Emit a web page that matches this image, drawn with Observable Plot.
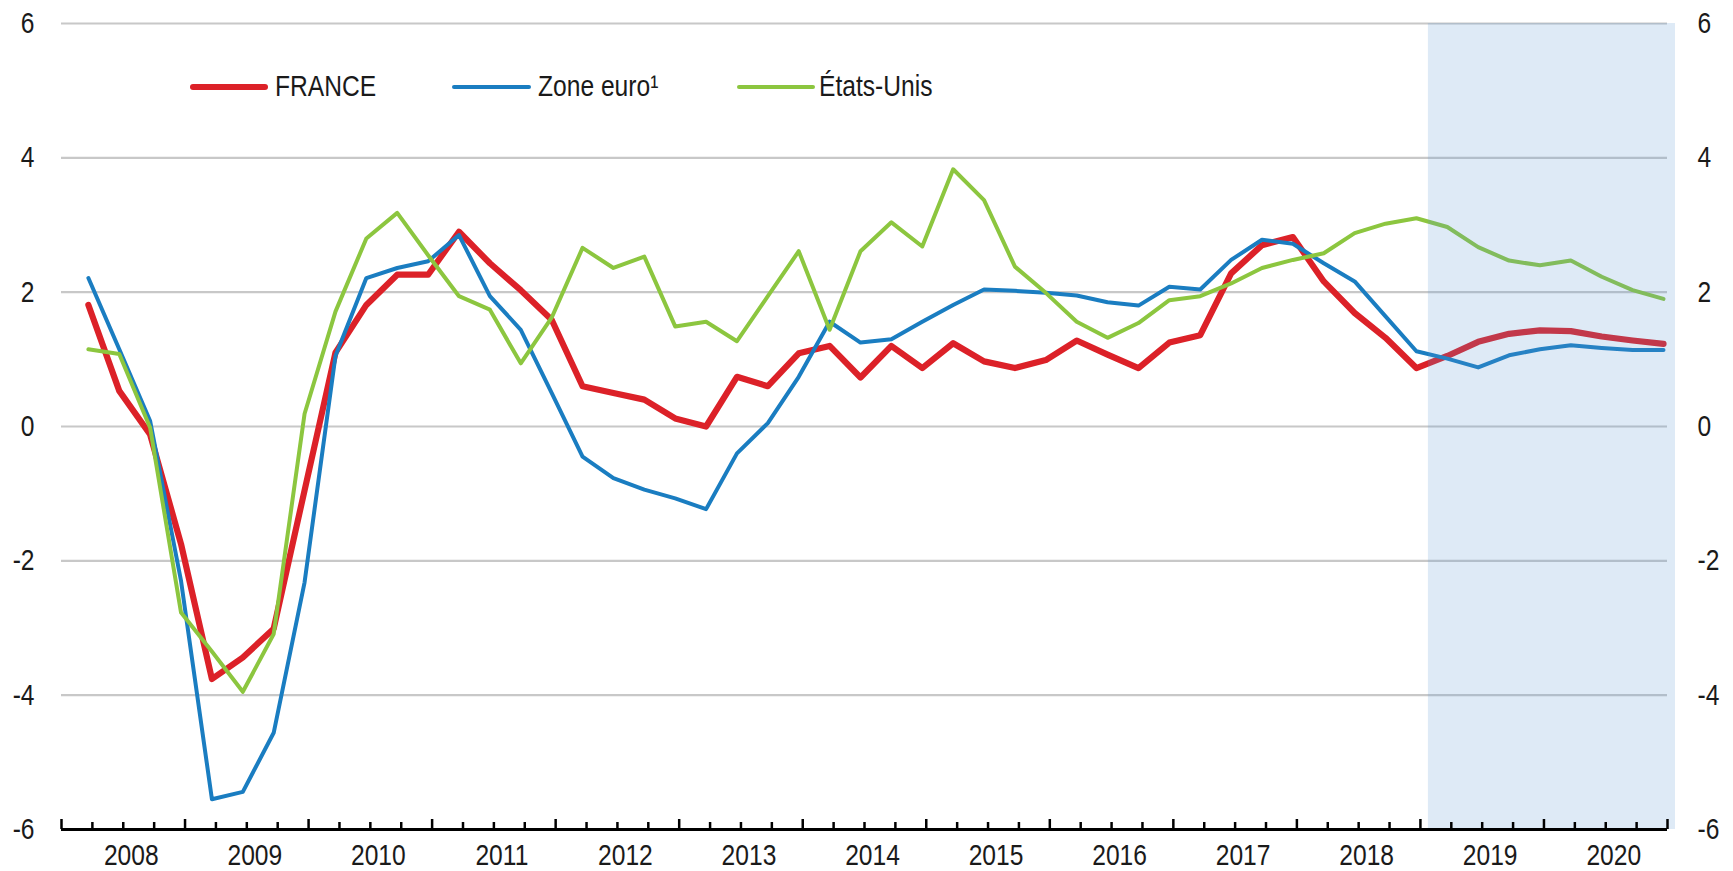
<!DOCTYPE html>
<html><head><meta charset="utf-8">
<script src="https://cdn.jsdelivr.net/npm/d3@7"></script>
<script src="https://cdn.jsdelivr.net/npm/@observablehq/plot@0.6"></script>
<style>
html,body{margin:0;padding:0;background:#fff;}
#wrap{position:relative;width:1733px;height:871px;overflow:hidden;}
#wrap svg{display:block;}
.leg{position:absolute;font-size:30px;line-height:30px;color:#1a1a1a;white-space:nowrap;transform:scaleX(0.82);transform-origin:0 0;}
.sw{position:absolute;border-radius:4px;}
</style></head><body><div id="wrap"></div>
<script>
const FONT = "'Liberation Sans Narrow','Arial Narrow','Liberation Sans',Arial,sans-serif";
const NARROW = 0.82; // horizontal condensing to mimic a narrow face

// Categories: quarterly, 2008 T1 .. 2020 T4
const years = [2008,2009,2010,2011,2012,2013,2014,2015,2016,2017,2018,2019,2020];
const quarters = [1,2,3,4];

// Series values (y/y % change)
const france = [1.81,0.53,-0.12,-1.75, -3.76,-3.44,-3.01,-0.95, 1.10,1.81,2.26,2.26,
  2.90,2.43,2.03,1.59, 0.60,0.50,0.40,0.12, 0.00,0.74,0.60,1.09,
  1.20,0.73,1.20,0.87, 1.24,0.97,0.87,0.99, 1.28,1.07,0.87,1.25,
  1.36,2.28,2.70,2.82, 2.16,1.69,1.32,0.87, 1.05,1.26,1.38,1.43,
  1.42,1.34,1.28,1.23];
const zoneEuro = [2.21,1.15,0.08,-2.30, -5.55,-5.44,-4.56,-2.32, 1.05,2.21,2.36,2.46,
  2.85,1.94,1.44,0.50, -0.45,-0.77,-0.94,-1.07, -1.23,-0.40,0.05,0.74,
  1.56,1.25,1.30,1.56, 1.81,2.04,2.02,1.99, 1.95,1.85,1.80,2.08,
  2.04,2.48,2.78,2.72, 2.43,2.16,1.64,1.12, 1.01,0.88,1.06,1.15,
  1.21,1.17,1.14,1.14];
const etatsUnis = [1.15,1.08,-0.02,-2.77, -3.35,-3.95,-3.09,0.19, 1.71,2.80,3.18,2.55,
  1.94,1.74,0.94,1.62, 2.66,2.36,2.53,1.49, 1.56,1.27,1.94,2.61,
  1.44,2.61,3.04,2.68, 3.83,3.37,2.38,1.99, 1.56,1.32,1.54,1.88,
  1.94,2.13,2.36,2.48, 2.58,2.88,3.02,3.10, 2.97,2.67,2.47,2.40,
  2.47,2.23,2.03,1.90];

const seriesNames = ["FRANCE", "Zone euro\u00b9", "\u00c9tats-Unis"];
const seriesValues = [france, zoneEuro, etatsUnis];
const seriesColors = ["#dc2128", "#1a7dc1", "#8cc63f"];
const seriesWidths = [6.2, 4, 4];

const yTicks = [-6,-4,-2,0,2,4,6];
const projection = [{start: 2019, end: 2021}];

// quarter-end positions on a continuous year axis
const periods = years.flatMap(y => quarters.map(q => ({year: y, q, t: y + q / 4})));
const tables = seriesValues.map((vals, s) =>
  periods.map((p, i) => ({series: seriesNames[s], t: p.t, value: vals[i]})));

const majorTicks = [...years, years[years.length - 1] + 1];
const minorTicks = years.flatMap(y => [1,2,3].map(q => y + q / 4));
const labelTicks = years.map(y => y + 0.5);

const chart = Plot.plot({
  width: 1733, height: 871,
  marginLeft: 61, marginRight: 66, marginTop: 23, marginBottom: 42,
  style: {fontFamily: FONT, fontSize: "30px", color: "#1a1a1a", background: "#fff", overflow: "visible"},
  x: {domain: [years[0], years[years.length - 1] + 1], label: null},
  y: {domain: [-6, 6], label: null},
  marks: [
    Plot.ruleY(yTicks.filter(v => v !== -6), {stroke: "#c8c8c8", strokeWidth: 2.2}),
    ...tables.map((tb, s) => Plot.line(tb, {
      x: "t", y: "value", stroke: seriesColors[s], strokeWidth: seriesWidths[s],
      strokeLinejoin: "round", strokeLinecap: "round", dx: -4
    })),
    Plot.rect(projection, {x1: "start", x2: "end", fill: "rgb(90,150,210)", fillOpacity: 0.2, dx: 8}),
    Plot.ruleY([-6], {stroke: "#000", strokeWidth: 3}),
    Plot.axisX({ticks: majorTicks, tickSize: -10, tickFormat: () => "", stroke: "#000", strokeWidth: 2.5, label: null}),
    Plot.axisX({ticks: minorTicks, tickSize: -7, tickFormat: () => "", stroke: "#000", strokeWidth: 2.5, label: null}),
    Plot.axisX({ticks: labelTicks, tickSize: 0, tickPadding: 14, dx: 8, fontSize: 30,
      tickFormat: d => String(Math.floor(d)), label: null}),
    Plot.axisY({anchor: "left", ticks: yTicks, tickSize: 0, tickPadding: 27, fontSize: 30,
      tickFormat: d => String(d), label: null}),
    Plot.axisY({anchor: "right", ticks: yTicks, tickSize: 0, tickPadding: 30, fontSize: 30,
      tickFormat: d => String(d), label: null})
  ]
});

// condense SVG text horizontally about its anchor point
chart.querySelectorAll("text").forEach(el => {
  const x = +(el.getAttribute("x") || 0);
  const tr = el.getAttribute("transform") || "";
  el.setAttribute("transform", `${tr} translate(${x},0) scale(${NARROW},1) translate(${-x},0)`);
});

const wrap = document.getElementById("wrap");
wrap.appendChild(chart);

// Legend (overlaid at the top of the plot area)
const legendItems = [
  {sw: [190, 78, 6.5], txt: 275},
  {sw: [452, 79, 4.5], txt: 538},
  {sw: [737, 78, 4.5], txt: 819}
];
legendItems.forEach((it, s) => {
  const sw = document.createElement("div");
  sw.className = "sw";
  sw.style.left = it.sw[0] + "px";
  sw.style.width = it.sw[1] + "px";
  sw.style.height = it.sw[2] + "px";
  sw.style.top = (87 - it.sw[2] / 2) + "px";
  sw.style.background = seriesColors[s];
  wrap.appendChild(sw);
  const t = document.createElement("div");
  t.className = "leg";
  t.style.fontFamily = FONT;
  t.style.left = it.txt + "px";
  t.style.top = "71px";
  t.textContent = seriesNames[s];
  wrap.appendChild(t);
});
</script></body></html>
